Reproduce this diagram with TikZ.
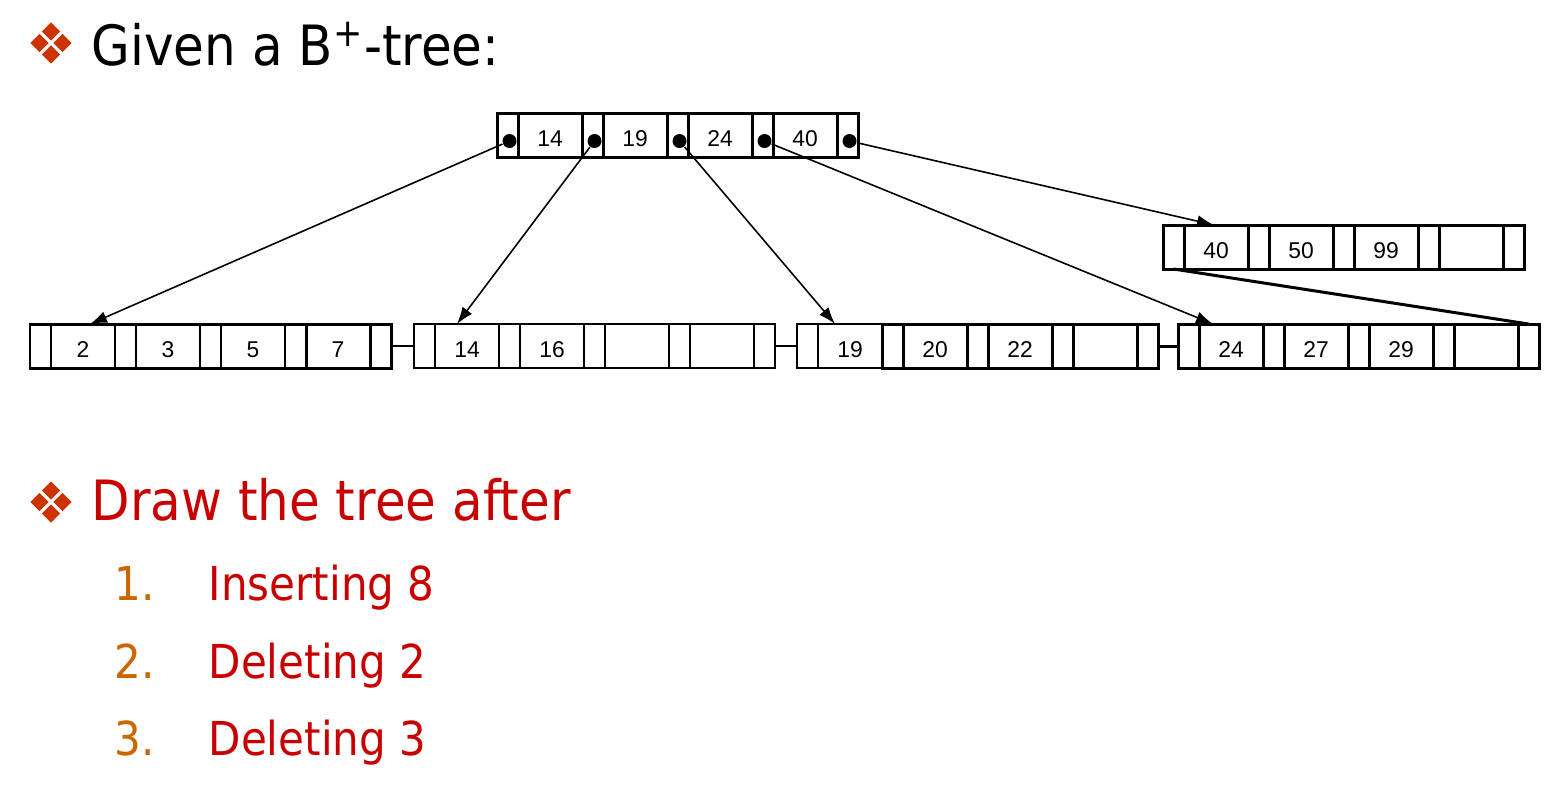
\documentclass[tikz,border=0pt]{standalone}
\usepackage{fontspec}
\usepackage{tikz}
\usetikzlibrary{positioning,arrows.meta,shapes.geometric}
\newfontfamily\slidefont[FakeStretch=0.9]{DejaVu Sans}
\newfontfamily\keyfont{Liberation Sans}
\definecolor{slidered}{RGB}{200,0,0}
\definecolor{numorange}{RGB}{204,102,0}
\definecolor{gemred}{RGB}{204,51,0}
\tikzset{
  cell/.style={draw, line width=0.85pt, minimum height=0.44cm, inner sep=0pt, outer sep=0pt,
    text height=0.22cm, text depth=0pt, font=\keyfont\fontsize{6.5}{7}\selectfont},
  ptr/.style={cell, minimum width=0.21cm},
  key/.style={cell, minimum width=0.64cm},
  dot/.style={circle, fill, inner sep=0pt, minimum size=0.14cm},
  link/.style={line width=0.45pt, -{Latex[length=1.7mm,width=1.2mm]}},
  gem/.style={diamond, fill=gemred, inner sep=0pt, minimum size=0.19cm},
  head/.style={anchor=base west, inner sep=0pt, font=\slidefont\fontsize{15.8}{18}\selectfont},
  item/.style={anchor=base west, inner sep=0pt, font=\slidefont\fontsize{13.3}{16}\selectfont},
}

\begin{document}
\begin{tikzpicture}
\useasboundingbox (0,0) rectangle (15.62,-7.99);

\foreach \n/\x/\y/\ks/\lw in {r/4.97/-1.57/{14,19,24,40}/0.85pt, a/0.30/-3.68/{2,3,5,7}/0.85pt,
    b/4.14/-3.68/{14,16,{},{}}/0.5pt, d/11.78/-3.68/{24,27,29,{}}/0.85pt, e/11.63/-2.69/{40,50,99,{}}/0.85pt} {
  \node[ptr, line width=\lw, anchor=south west] (\n P0) at (\x,\y) {};
  \foreach \k [count=\i, remember=\i as \j (initially 0)] in \ks {
    \node[key, line width=\lw, right=0pt of \n P\j] (\n K\i) {\k};
    \node[ptr, line width=\lw, right=0pt of \n K\i] (\n P\i) {};
  }
}
\node[ptr, line width=0.5pt, anchor=south west] (cP0) at (7.97,-3.68) {};
\node[key, line width=0.5pt, right=0pt of cP0] (cK1) {19};
\node[ptr, right=0pt of cK1] (cP1) {};
\foreach \k [count=\i from 2, remember=\i as \j (initially 1)] in {20,22,{}} {
  \node[key, right=0pt of cP\j] (cK\i) {\k};
  \node[ptr, right=0pt of cK\i] (cP\i) {};
}

\foreach \i in {0,...,4}
  \node[dot] (dot\i) at ([shift={(0.02,-0.06)}]rP\i.center) {};

\draw[link] (dot0) -- ([xshift=0.39cm]aK1.north west);
\draw[link] (dot1) -- ([xshift=0.22cm]bK1.north west);
\draw[link] (dot2) -- ([xshift=0.17cm]cK1.north west);
\draw[link] (dot3) -- ([xshift=0.14cm]dK1.north west);
\draw[link] (dot4) -- ([xshift=0.30cm]eK1.north west);

\draw[line width=0.5pt] (aP4.east) -- (bP0.west);
\draw[line width=0.5pt] (bP4.east) -- (cP0.west);
\draw[line width=0.85pt] (cP4.east) -- (dP0.west);
\draw[line width=0.85pt] (eP0.south) -- (dP4.north);

\coordinate (gem1) at (0.51,-0.43);
\coordinate (gem2) at (0.51,-5.02);
\foreach \g in {gem1,gem2}
  \foreach \a in {0,90,180,270}
    \node[gem] at ([shift={(\a:0.115)}]\g) {};

\node[head] (given) at (0.91,-0.65) {Given a B\textsuperscript{+}-tree:};
\node[head, text=slidered] (draw) at (0.91,-5.20) {Draw the tree after};
\node[item, text=numorange] (n1) at (1.14,-6.00) {1.};
\node[item, text=numorange] (n2) at (1.14,-6.78) {2.};
\node[item, text=numorange] (n3) at (1.14,-7.55) {3.};
\node[item, text=slidered] (step1) at (2.08,-6.00) {Inserting 8};
\node[item, text=slidered] (step2) at (2.08,-6.78) {Deleting 2};
\node[item, text=slidered] (step3) at (2.08,-7.55) {Deleting 3};
\end{tikzpicture}
\end{document}
